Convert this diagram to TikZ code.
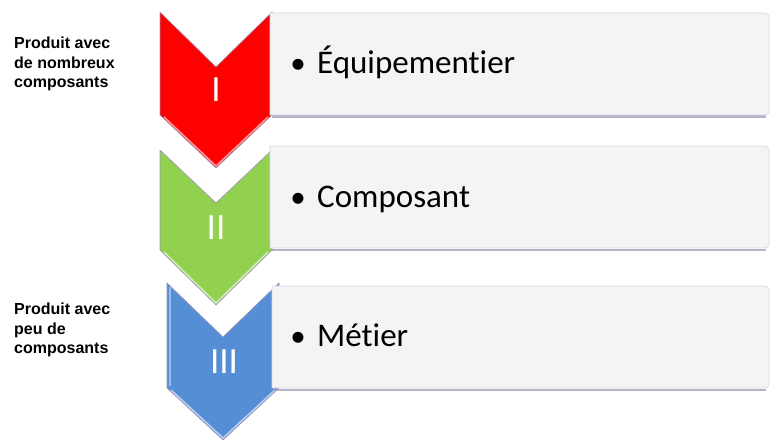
\documentclass[tikz,border=0pt]{standalone}
\usepackage{fontspec}
\setmainfont{Carlito}[Ligatures=NoCommon]
\newfontfamily\lab{Liberation Sans}
\definecolor{cred}{HTML}{FF0000}
\definecolor{cgreen}{HTML}{92D050}
\definecolor{cblue}{HTML}{558ED5}
\definecolor{boxfill}{HTML}{F4F4F4}
\definecolor{boxline}{HTML}{DCD6EA}
\definecolor{boxshadow}{HTML}{A7A0BA}
\definecolor{chevline}{HTML}{9C92BA}
\tikzset{
  chev/.style={draw=chevline, line width=0.6pt, line join=miter},
  hilite/.style={draw=white, opacity=0.6, line width=1.5pt},
  boxshape/.style={fill=boxfill, draw=boxline, line width=0.8pt},
  boxshad/.style={draw=boxshadow, line width=2pt, opacity=0.8},
  numtxt/.style={text=white, font=\fontsize{37}{40}\selectfont, inner sep=0pt, anchor=base},
  itemtxt/.style={text=black, font=\fontsize{33}{36}\selectfont, inner sep=0pt, anchor=base west},
  bul/.style={text=black, font=\fontsize{31}{34}\selectfont, inner sep=0pt, anchor=base},
  sidetxt/.style={font=\lab\bfseries\fontsize{16}{19.3}\selectfont, align=left, inner sep=0pt, anchor=north west}
}
\begin{document}
\begin{tikzpicture}[x=1pt,y=-1pt]
\useasboundingbox (0,0) rectangle (770,441);
% chevrons
\path[chev, fill=cred] (160,12) -- (216,67) -- (272,12) -- (272,115) -- (216,168) -- (160,115) -- cycle;
\draw[hilite] (164,117) -- (216,166) -- (268,117);
\path[chev, fill=cgreen] (160,150) -- (216,203) -- (272,150) -- (272,250) -- (216,305) -- (160,250) -- cycle;
\draw[hilite] (164,252) -- (216,303) -- (268,252);
\path[chev, fill=cblue] (167,283) -- (223,337) -- (279,283) -- (279,388) -- (223,440) -- (167,388) -- cycle;
\draw[hilite] (171,390) -- (223,438) -- (275,390);
\draw[hilite, opacity=0.4] (170,287) -- (170,386);
% boxes
\draw[boxshad] (272,116.5) -- (766,116.5);
\path[boxshape] (270,13) -- (765,13) to[out=0,in=90] (769,17) -- (769,111) to[out=-90,in=0] (765,115) -- (270,115) -- cycle;
\draw[boxshad] (272,249.5) -- (766,249.5);
\path[boxshape] (270,146) -- (765,146) to[out=0,in=90] (769,150) -- (769,244) to[out=-90,in=0] (765,248) -- (270,248) -- cycle;
\draw[boxshad] (274,389.5) -- (766,389.5);
\path[boxshape] (272,286) -- (765,286) to[out=0,in=90] (769,290) -- (769,384) to[out=-90,in=0] (765,388) -- (272,388) -- cycle;
% numerals
\node[numtxt] (n1) at (216,102) {I};
\node[numtxt] (n2) at (216,239) {II};
\node[numtxt] (n3) at (224,373) {III};
% items
\node[bul] (b1) at (298,74) {•};
\node[itemtxt] (t1) at (317,74) {Équipementier};
\node[bul] (b2) at (298,207) {•};
\node[itemtxt] (t2) at (317,207) {Composant};
\node[bul] (b3) at (298,346) {•};
\node[itemtxt] (t3) at (317,346) {Métier};
% side labels
\node[sidetxt] (s1) at (14,37) {Produit avec\\de nombreux\\composants};
\node[sidetxt] (s2) at (14,303) {Produit avec\\peu de\\composants};
\end{tikzpicture}
\end{document}
